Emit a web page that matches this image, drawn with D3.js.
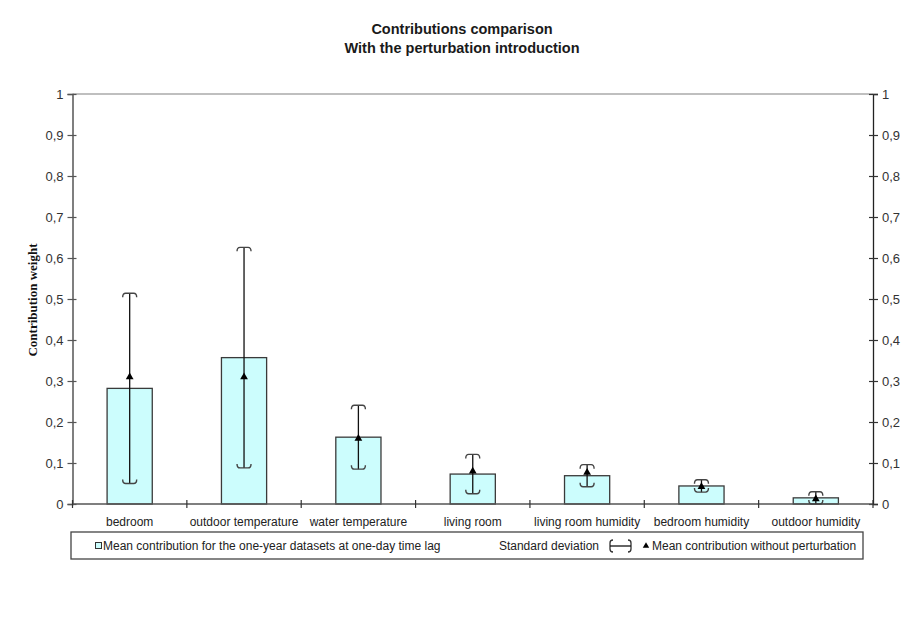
<!DOCTYPE html>
<html>
<head>
<meta charset="utf-8">
<script src="https://cdn.jsdelivr.net/npm/d3@7"></script>
<style>
  html, body { margin: 0; padding: 0; background: #ffffff; }
  svg { display: block; }
</style>
</head>
<body>
<svg id="chart" width="902" height="627"></svg>
<script>
const categories = ["bedroom", "outdoor temperature", "water temperature", "living room", "living room humidity", "bedroom humidity", "outdoor humidity"];
const meanContribution = [0.282, 0.357, 0.163, 0.073, 0.069, 0.044, 0.015];
const standardDeviation = [0.232, 0.269, 0.078, 0.048, 0.027, 0.015, 0.015];
const meanWithoutPerturbation = [0.31, 0.31, 0.16, 0.08, 0.077, 0.042, 0.012];
const yTickValues = [0, 0.1, 0.2, 0.3, 0.4, 0.5, 0.6, 0.7, 0.8, 0.9, 1];
const yTickLabels = ["0", "0,1", "0,2", "0,3", "0,4", "0,5", "0,6", "0,7", "0,8", "0,9", "1"];
const titleLines = ["Contributions comparison", "With the perturbation introduction"];
const yAxisTitle = "Contribution weight";
const legendLabels = ["Mean contribution for the one-year datasets at one-day time lag", "Standard deviation", "Mean contribution without perturbation"];

(function () {
const svg = d3.select("#chart");
const font = "Liberation Sans, Arial, sans-serif";

const pLeft = 72.5, pRight = 873, pTop = 94, pBottom = 504;
const x = d3.scaleBand().domain(categories).range([pLeft, pRight]).padding(0);
const y = d3.scaleLinear().domain([0, 1]).range([pBottom, pTop]);
const labelOf = v => yTickLabels[yTickValues.indexOf(v)];

// Title
svg.selectAll("text.title").data(titleLines).enter().append("text")
  .attr("class", "title")
  .attr("x", 462).attr("y", (d, i) => 34 + i * 19)
  .attr("text-anchor", "middle")
  .attr("font-family", font).attr("font-size", 14.5).attr("font-weight", "bold")
  .attr("fill", "#1a1a1a")
  .text(d => d);

// top border of plot area
svg.append("line").attr("x1", pLeft).attr("x2", pRight).attr("y1", pTop).attr("y2", pTop)
  .attr("stroke", "#aaa").attr("stroke-width", 1.5);

// Left axis
const gl = svg.append("g").attr("transform", `translate(${pLeft},0)`)
  .call(d3.axisLeft(y).tickValues(yTickValues).tickFormat(labelOf).tickSize(5).tickPadding(4));
gl.select(".domain").attr("stroke", "#555").attr("stroke-width", 1.5);
gl.selectAll(".tick line").attr("x1", 4).attr("x2", -5).attr("stroke", "#555").attr("stroke-width", 1.2);
gl.selectAll(".tick text").attr("font-family", font).attr("font-size", 13).attr("fill", "#333");

// Right axis
const gr = svg.append("g").attr("transform", `translate(${pRight},0)`)
  .call(d3.axisRight(y).tickValues(yTickValues).tickFormat(labelOf).tickSize(5).tickPadding(4));
gr.select(".domain").attr("stroke", "#222").attr("stroke-width", 1.3);
gr.selectAll(".tick line").attr("x1", -4).attr("x2", 5).attr("stroke", "#333").attr("stroke-width", 1.2);
gr.selectAll(".tick text").attr("font-family", font).attr("font-size", 13).attr("fill", "#333");

// Bars
const barW = x.bandwidth() * 0.395;
svg.append("g").selectAll("rect").data(categories).enter().append("rect")
  .attr("x", d => x(d) + x.bandwidth() / 2 - barW / 2)
  .attr("y", (d, i) => y(meanContribution[i]))
  .attr("width", barW)
  .attr("height", (d, i) => y(0) - y(meanContribution[i]))
  .attr("fill", "#ccfdfd").attr("stroke", "#3a3a3a").attr("stroke-width", 1.3);

// Bottom axis
svg.append("line").attr("x1", pLeft).attr("x2", pRight).attr("y1", pBottom).attr("y2", pBottom)
  .attr("stroke", "#555").attr("stroke-width", 1.5);
const edges = categories.map(c => x(c)).concat([pRight]);
svg.append("g").selectAll("line").data(edges).enter().append("line")
  .attr("x1", d => d).attr("x2", d => d).attr("y1", pBottom - 4).attr("y2", pBottom + 4)
  .attr("stroke", "#333").attr("stroke-width", 1.2);
const gb = svg.append("g").attr("transform", `translate(0,${pBottom})`)
  .call(d3.axisBottom(x).tickSize(0).tickPadding(13));
gb.select(".domain").remove();
gb.selectAll(".tick text").attr("font-family", font).attr("font-size", 12).attr("fill", "#222");

// Error bars
const capPath = (cx, cy, dir) => {
  const w = 7, h = 4 * dir;
  return `M${cx - w},${cy + h} Q${cx - w},${cy} ${cx - w + 3},${cy} L${cx + w - 3},${cy} Q${cx + w},${cy} ${cx + w},${cy + h}`;
};
const eg = svg.append("g");
categories.forEach((c, i) => {
  const cx = x(c) + x.bandwidth() / 2;
  const hi = y(meanContribution[i] + standardDeviation[i]);
  const lo = y(Math.max(0, meanContribution[i] - standardDeviation[i]));
  eg.append("line").attr("x1", cx).attr("x2", cx).attr("y1", hi).attr("y2", lo)
    .attr("stroke", "#111").attr("stroke-width", 1.3);
  eg.append("path").attr("d", capPath(cx, hi, 1)).attr("fill", "none").attr("stroke", "#444").attr("stroke-width", 1.4);
  eg.append("path").attr("d", capPath(cx, lo, -1)).attr("fill", "none").attr("stroke", "#444").attr("stroke-width", 1.4);
});

// Triangles
const tri = d3.symbol().type(d3.symbolTriangle).size(26);
svg.append("g").selectAll("path").data(categories).enter().append("path")
  .attr("d", tri)
  .attr("transform", (d, i) => `translate(${x(d) + x.bandwidth() / 2},${y(meanWithoutPerturbation[i])})`)
  .attr("fill", "#000");

// Y axis title
svg.append("text")
  .attr("transform", "translate(37,300) rotate(-90)")
  .attr("text-anchor", "middle")
  .attr("font-family", "Liberation Serif, Times New Roman, serif")
  .attr("font-size", 13).attr("font-weight", "bold").attr("fill", "#111")
  .text(yAxisTitle);

// Legend
const lg = svg.append("g");
lg.append("rect").attr("x", 71).attr("y", 532).attr("width", 792).attr("height", 27)
  .attr("fill", "#fff").attr("stroke", "#444").attr("stroke-width", 1.3);
lg.append("rect").attr("x", 95.5).attr("y", 542.5).attr("width", 6).attr("height", 6)
  .attr("fill", "#ccfdfd").attr("stroke", "#333").attr("stroke-width", 1);
lg.append("text").attr("x", 103).attr("y", 550).attr("font-family", font).attr("font-size", 12).attr("fill", "#222")
  .text(legendLabels[0]);
lg.append("text").attr("x", 599).attr("y", 550).attr("text-anchor", "end").attr("font-family", font).attr("font-size", 12).attr("fill", "#222")
  .text(legendLabels[1]);
const lx1 = 610, lx2 = 631, ly = 546;
lg.append("path").attr("d", `M${lx1 + 3},${ly - 6} Q${lx1},${ly - 6} ${lx1},${ly - 3} L${lx1},${ly + 3} Q${lx1},${ly + 6} ${lx1 + 3},${ly + 6}`)
  .attr("fill", "none").attr("stroke", "#333").attr("stroke-width", 1.3);
lg.append("path").attr("d", `M${lx2 - 3},${ly - 6} Q${lx2},${ly - 6} ${lx2},${ly - 3} L${lx2},${ly + 3} Q${lx2},${ly + 6} ${lx2 - 3},${ly + 6}`)
  .attr("fill", "none").attr("stroke", "#333").attr("stroke-width", 1.3);
lg.append("line").attr("x1", lx1).attr("x2", lx2).attr("y1", ly).attr("y2", ly).attr("stroke", "#111").attr("stroke-width", 1.3);
lg.append("path").attr("d", d3.symbol().type(d3.symbolTriangle).size(18))
  .attr("transform", "translate(646,546)").attr("fill", "#000");
lg.append("text").attr("x", 652).attr("y", 550).attr("font-family", font).attr("font-size", 12).attr("fill", "#222")
  .text(legendLabels[2]);
})();
</script>
</body>
</html>
